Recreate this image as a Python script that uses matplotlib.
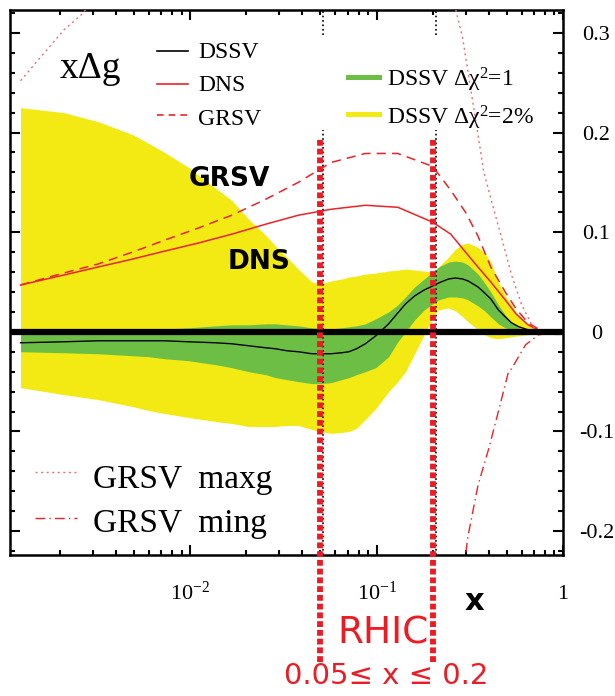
import numpy as np
import matplotlib.pyplot as plt
from matplotlib.lines import Line2D
from matplotlib.ticker import LogLocator, MultipleLocator, NullFormatter
import matplotlib.transforms as mtransforms

plt.rcParams['font.family'] = ['Liberation Serif', 'DejaVu Serif']
plt.rcParams['mathtext.fontset'] = 'custom'
plt.rcParams['mathtext.rm'] = 'Liberation Serif'
plt.rcParams['mathtext.it'] = 'Liberation Serif:italic'

## DSSV bands and central value ##
band_x = [0.00123, 0.0021, 0.0032, 0.0049, 0.006, 0.0073, 0.0098, 0.0137, 0.0167, 0.0206,
          0.0254, 0.0287, 0.033, 0.038, 0.045, 0.05, 0.057, 0.065, 0.071, 0.078,
          0.087, 0.099, 0.116, 0.13, 0.143, 0.16, 0.18, 0.2, 0.215, 0.243, 0.265,
          0.29, 0.31, 0.35, 0.38, 0.41, 0.45, 0.49, 0.53, 0.58, 0.65, 0.75, 0.95]
yellow_hi = [0.225, 0.220, 0.211, 0.198, 0.189, 0.180, 0.165, 0.144, 0.132, 0.113,
             0.097, 0.086, 0.075, 0.063, 0.050, 0.048, 0.051, 0.053, 0.055, 0.056,
             0.058, 0.059, 0.061, 0.062, 0.063, 0.062, 0.061, 0.060, 0.065, 0.075, 0.083,
             0.088, 0.089, 0.085, 0.079, 0.070, 0.050, 0.036, 0.027, 0.015, 0.007, 0.002, 0.000]
yellow_lo = [-0.056, -0.063, -0.068, -0.075, -0.079, -0.082, -0.086, -0.090, -0.092, -0.095,
             -0.095, -0.095, -0.094, -0.094, -0.098, -0.100, -0.102, -0.101, -0.100, -0.097,
             -0.088, -0.077, -0.060, -0.050, -0.040, -0.022, -0.003, 0.015, 0.022, 0.024, 0.021,
             0.015, 0.010, 0.002, -0.003, -0.006, -0.007, -0.006, -0.005, -0.004, -0.003, -0.002, -0.001]
green_hi = [0.000, 0.000, 0.000, 0.001, 0.002, 0.003, 0.004, 0.006, 0.007, 0.007,
            0.008, 0.008, 0.007, 0.006, 0.004, 0.003, 0.003, 0.004, 0.005, 0.006,
            0.008, 0.013, 0.020, 0.027, 0.035, 0.045, 0.053, 0.060, 0.065, 0.070, 0.071,
            0.070, 0.067, 0.058, 0.049, 0.040, 0.027, 0.017, 0.009, 0.004, 0.002, 0.000, -0.001]
green_lo = [-0.020, -0.021, -0.022, -0.024, -0.025, -0.027, -0.029, -0.033, -0.036, -0.040,
            -0.043, -0.046, -0.048, -0.050, -0.052, -0.052, -0.051, -0.048, -0.046, -0.043,
            -0.040, -0.036, -0.025, -0.010, 0.000, 0.012, 0.022, 0.028, 0.032, 0.035, 0.035,
            0.034, 0.032, 0.026, 0.021, 0.015, 0.008, 0.004, 0.002, 0.000, -0.001, -0.002, -0.003]
dssv = [-0.011, -0.010, -0.009, -0.009, -0.009, -0.009, -0.010, -0.011, -0.012, -0.014,
        -0.016, -0.017, -0.019, -0.020, -0.022, -0.022, -0.022, -0.021, -0.020, -0.017,
        -0.012, -0.004, 0.008, 0.019, 0.028, 0.036, 0.042, 0.046, 0.049, 0.053, 0.054,
        0.053, 0.051, 0.045, 0.039, 0.033, 0.022, 0.015, 0.009, 0.005, 0.002, 0.000, -0.001]

## DNS and GRSV curves ##
curve_x = [0.00123, 0.0021, 0.0032, 0.0049, 0.0073, 0.011, 0.0167, 0.0254, 0.038,
           0.057, 0.087, 0.13, 0.2, 0.25, 0.3, 0.35, 0.41, 0.49, 0.56, 0.65, 0.75]
dns = [0.047, 0.057, 0.065, 0.073, 0.081, 0.089, 0.098, 0.108, 0.117,
       0.123, 0.127, 0.125, 0.110, 0.098, 0.080, 0.065, 0.050, 0.032, 0.018, 0.007, 0.001]
grsv = [0.047, 0.059, 0.068, 0.080, 0.092, 0.104, 0.117, 0.133, 0.150,
        0.170, 0.179, 0.179, 0.166, 0.142, 0.120, 0.096, 0.065, 0.040, 0.023, 0.009, 0.002]

maxg_x = [0.00123, 0.0021, 0.0026, 0.004, 0.01, 0.05, 0.15, 0.24, 0.27, 0.29,
          0.36, 0.375, 0.41, 0.47, 0.53, 0.6, 0.68, 0.74, 0.9]
maxg = [0.252, 0.303, 0.318, 0.36, 0.45, 0.55, 0.48, 0.36, 0.318, 0.294,
        0.183, 0.161, 0.134, 0.093, 0.057, 0.027, 0.007, -0.003, -0.001]

ming_x = [0.28, 0.30, 0.31, 0.35, 0.40, 0.45, 0.51, 0.53, 0.63, 0.74, 0.9]
ming = [-0.26, -0.224, -0.204, -0.154, -0.117, -0.080, -0.040, -0.037, -0.013, -0.003, 0.0]

rhic_range = [0.05, 0.2]

x_ticks = [0.01, 0.1, 1.0]
x_ticklabels = [r'$10^{-2}$', r'$10^{-1}$', '1']
y_ticks = [-0.2, -0.1, 0.0, 0.1, 0.2, 0.3]
y_ticklabels = ['-0.2', '-0.1', '0', '0.1', '0.2', '0.3']

YELLOW = '#F3EA14'
GREEN = '#6CBE45'
RED = '#EE2228'

W, H = 615, 696


def fig_xy(px, py):
    return px / W, 1 - py / H


def legend_row(x0, x1, y_line, x_text, y_base, label, size, **line_kw):
    (a, b), (c, _) = fig_xy(x0, y_line), fig_xy(x1, y_line)
    fig.add_artist(Line2D([a, c], [b, b], transform=fig.transFigure, **line_kw))
    tx, ty = fig_xy(x_text, y_base)
    fig.text(tx, ty, label, fontsize=size, va='baseline', ha='left')


fig = plt.figure(figsize=(W / 100, H / 100), dpi=100)
ax = fig.add_axes([10 / W, 1 - 555 / H, (563 - 10) / W, (555 - 10) / H])

ax.fill_between(band_x, yellow_lo, yellow_hi, color=YELLOW, lw=0, zorder=1)
ax.fill_between(band_x, green_lo, green_hi, color=GREEN, lw=0, zorder=2)
ax.plot(band_x, dssv, color='black', lw=1.0, zorder=3)

ax.plot(curve_x, dns, color=RED, lw=1.1, zorder=3)
ax.plot(curve_x, grsv, color=RED, lw=1.1, ls=(0, (6, 4)), zorder=3)
ax.plot(maxg_x, maxg, color='#F07070', lw=1.0, ls=(0, (1.5, 2.5)), zorder=3)
ax.plot(ming_x, ming, color=RED, lw=1.0, ls=(0, (7, 3, 1, 3)), zorder=3)

ax.axhline(0, color='black', lw=4.5, zorder=5)

# RHIC window: thin black dotted guides plus thick red dotted markers
shift = mtransforms.offset_copy(ax.get_xaxis_transform(), fig=fig, x=3, y=0, units='dots')
for xr in rhic_range:
    ax.plot([xr, xr], [0.954, 1.0], transform=shift, color='black', lw=1.2, ls=':', zorder=6)
    ax.plot([xr, xr], [0.0, 0.78], transform=shift, color='black', lw=1.2, ls=':', zorder=6)
    ax.axvline(xr, ymin=-0.196, ymax=0.761, color='#ED1C24', lw=4.2,
               ls=(0, (1, 0.5)), dash_capstyle='butt', clip_on=False, zorder=7)

ax.set_xscale('log')
ax.set_xlim(1.08e-3, 1.0)
ax.set_ylim(-0.224, 0.323)

for s in ax.spines.values():
    s.set_linewidth(1.8)

ax.set_xticks(x_ticks, x_ticklabels)
ax.xaxis.set_minor_locator(LogLocator(base=10, subs=np.arange(2, 10)))
ax.xaxis.set_minor_formatter(NullFormatter())
ax.set_yticks(y_ticks, y_ticklabels)
ax.yaxis.set_minor_locator(MultipleLocator(0.02))

ax.tick_params(which='both', direction='in', top=True, right=True, left=True, bottom=True,
               labelleft=False, labelright=True, width=1.5, labelsize=16)
ax.tick_params(which='major', length=7.5)
ax.tick_params(which='minor', length=3.8)
ax.xaxis.set_tick_params(which='major', pad=32)
ax.yaxis.set_tick_params(which='major', pad=24)
for t in ax.xaxis.get_major_ticks():
    t.label1.set_va('baseline')
for t in ax.yaxis.get_major_ticks():
    t.label2.set_ha('center')

# curve names written on the plot
ax.text(0.0162, 0.153, 'GRSV', fontfamily='DejaVu Sans', fontweight='bold', fontsize=19,
        ha='center', va='center', zorder=8)
ax.text(0.0233, 0.070, 'DNS', fontfamily='DejaVu Sans', fontweight='bold', fontsize=19,
        ha='center', va='center', zorder=8)

# legends
fx, fy = fig_xy(60, 78)
fig.text(fx, fy, 'xΔg', fontsize=27, va='baseline')
legend_row(157, 188, 51, 198, 58, 'DSSV', 17, color='black', lw=1.2)
legend_row(157, 188, 84, 198, 91, 'DNS', 17, color=RED, lw=1.2)
legend_row(157, 188, 115, 198, 125, 'GRSV', 17, color=RED, lw=1.2, ls=(0, (4, 3)))
legend_row(348, 379, 77, 387, 87, r'DSSV Δχ$^2$=1', 17, color=GREEN, lw=3.6)
legend_row(348, 379, 114, 387, 124, r'DSSV Δχ$^2$=2%', 17, color=YELLOW, lw=3.6)
legend_row(35, 77, 472, 93, 488, 'GRSV  maxg', 24, color='#F07070', lw=1.0, ls=(0, (1.5, 2.5)))
legend_row(35, 77, 518, 93, 532, 'GRSV  ming', 24, color=RED, lw=1.0, ls=(0, (7, 3, 1, 3)))

# axis name and RHIC range below the axes
fx, fy = fig_xy(474, 602)
fig.text(fx, fy, 'x', fontfamily='DejaVu Sans', fontweight='bold', fontsize=22, ha='center', va='center')
fx, fy = fig_xy(383, 634)
fig.text(fx, fy, 'RHIC', fontfamily='DejaVu Sans', fontsize=27, color='#ED1C24', ha='center', va='center')
fx, fy = fig_xy(386, 676)
fig.text(fx, fy, '0.05≤ x ≤ 0.2', fontfamily='DejaVu Sans', fontsize=21, color='#ED1C24',
         ha='center', va='center')

fig.savefig('out.png', dpi=100)
